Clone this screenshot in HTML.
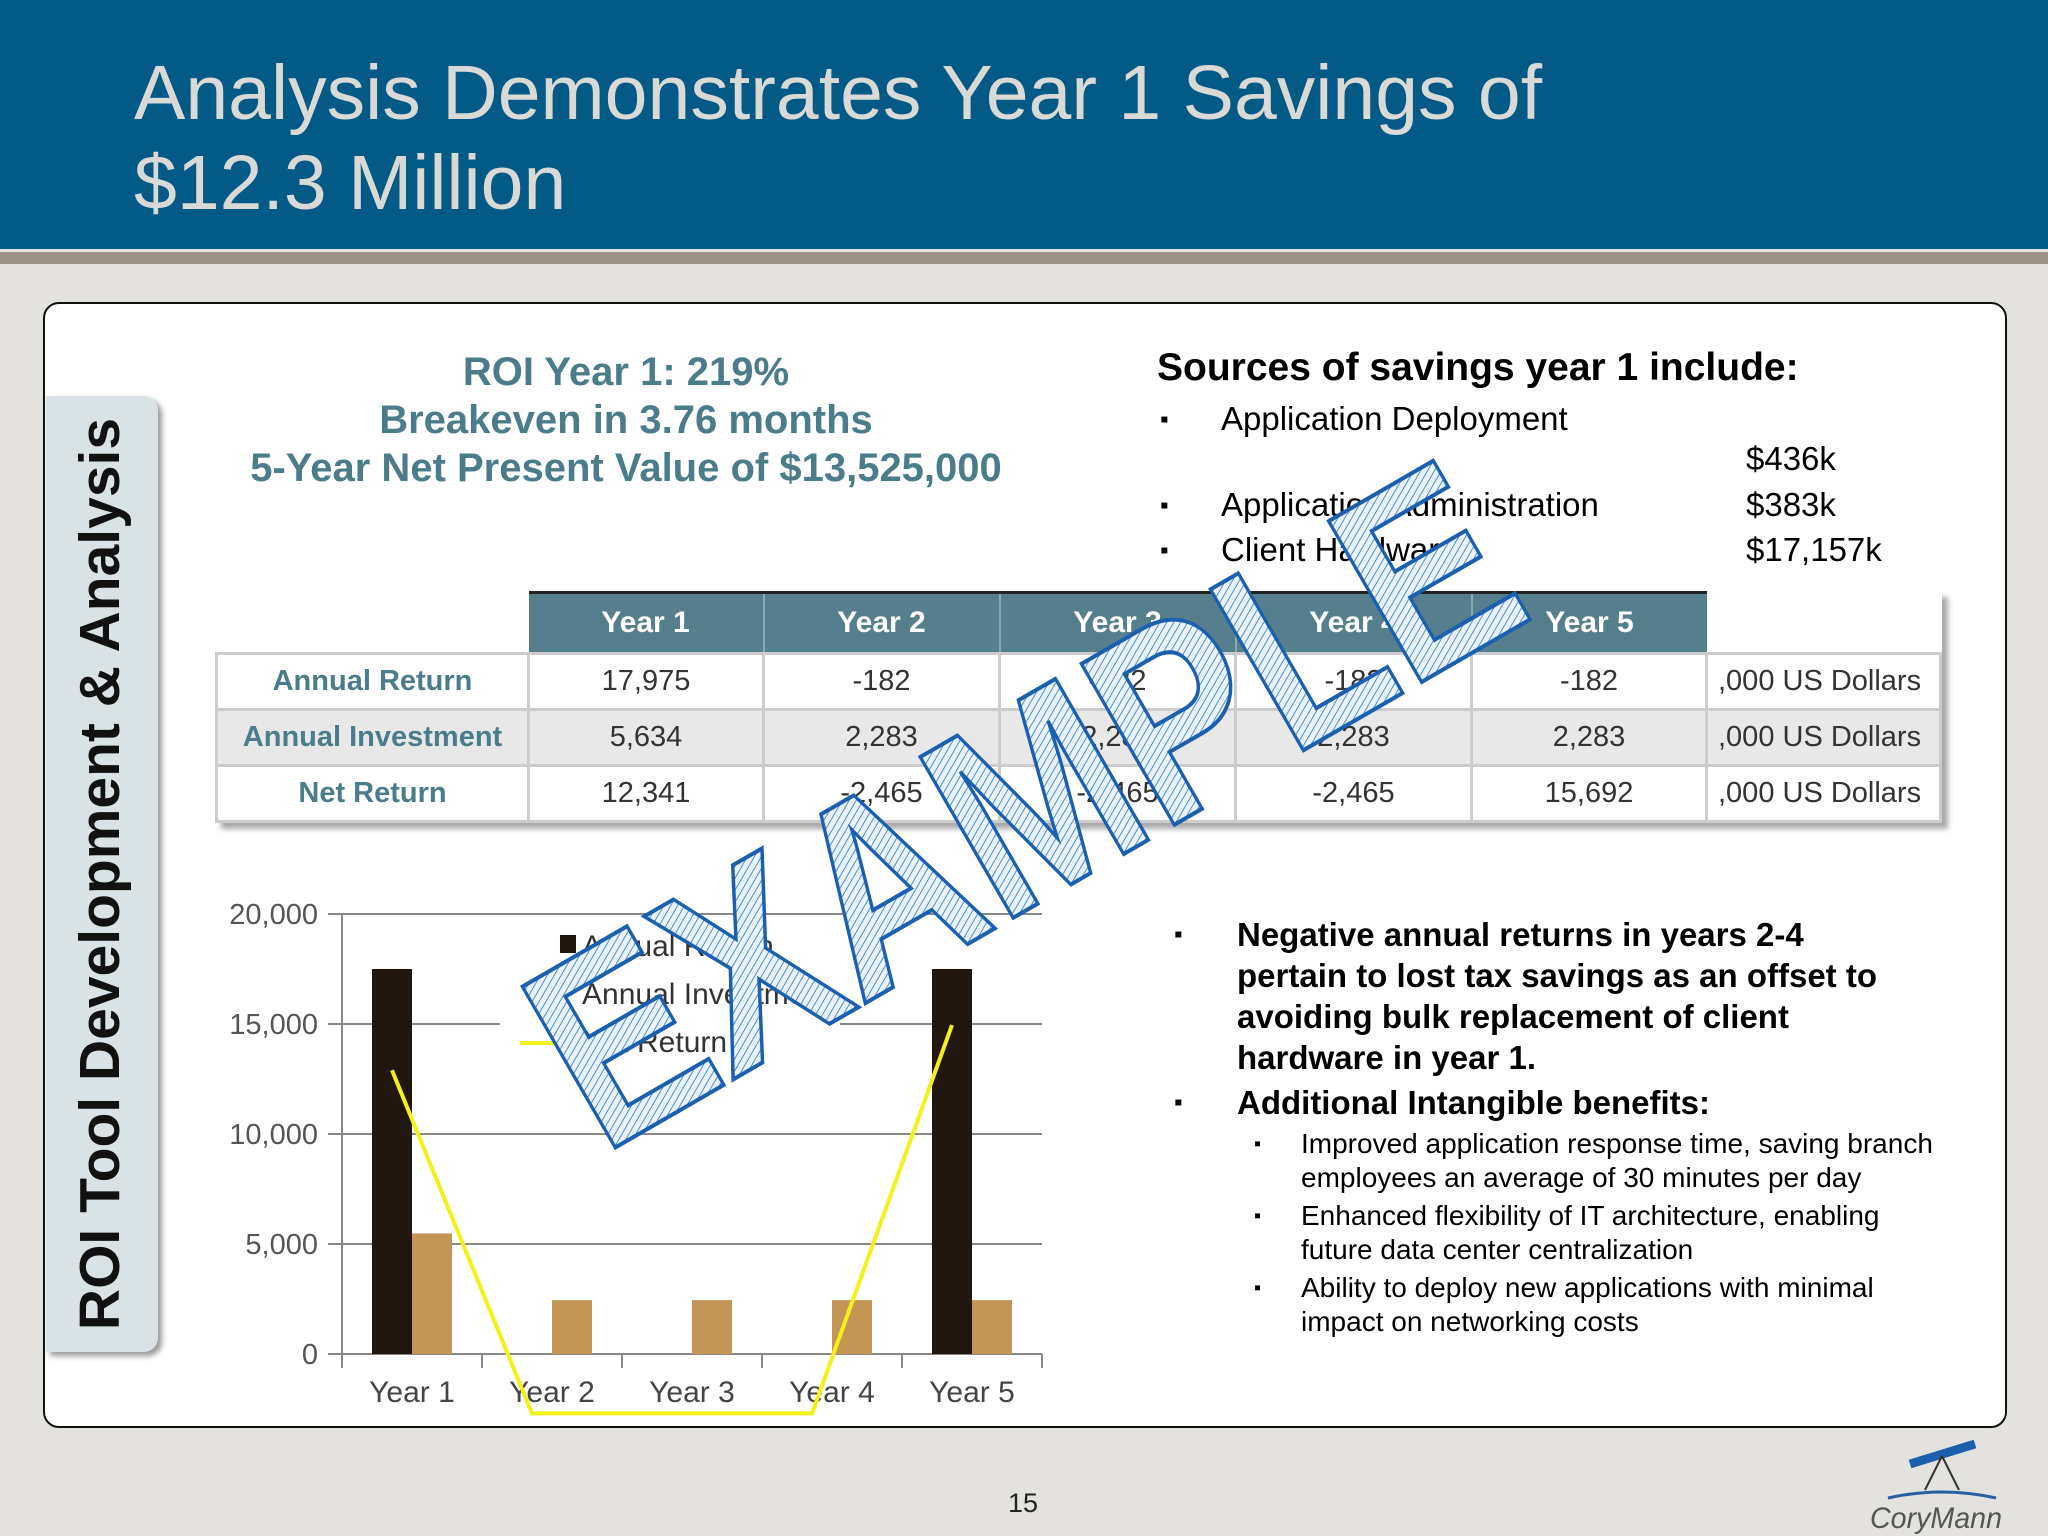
<!DOCTYPE html>
<html><head><meta charset="utf-8">
<style>
body{margin:0;width:2048px;height:1536px;overflow:hidden;background:#e4e2df;font-family:"Liberation Sans",sans-serif;position:relative}
.abs{position:absolute}
</style></head><body>
<div class="abs" style="left:0;top:0;width:2048px;height:249px;background:#045a86"></div>
<div class="abs" style="left:0;top:252px;width:2048px;height:12px;background:#9b9184"></div>
<div class="abs" style="left:134px;top:48px;color:#d9d9d6;font-size:77px;line-height:90px;">Analysis Demonstrates Year 1 Savings of<br>$12.3 Million</div>

<div class="abs" style="left:43px;top:302px;width:1960px;height:1122px;background:#fff;border:2px solid #111;border-radius:16px"></div>
<div class="abs" style="left:46px;top:396px;width:112px;height:956px;background:#d9e2e4;border-radius:0 14px 14px 0;box-shadow:4px 4px 6px #999"></div>
<div class="abs" style="left:100px;top:874px;transform:translate(-50%,-50%) rotate(-90deg);white-space:nowrap;font-weight:bold;font-size:57px;color:#111">ROI Tool Development &amp; Analysis</div>

<div class="abs" style="left:226px;top:348px;width:800px;text-align:center;color:#4b7c8a;font-weight:bold;font-size:40px;line-height:48px">ROI Year 1: 219%<br>Breakeven in 3.76 months<br>5-Year Net Present Value of $13,525,000</div>

<div class="abs" style="left:1157px;top:346px;font-weight:bold;font-size:39px;color:#000">Sources of savings year 1 include:</div>
<div class="abs" style="left:1160px;top:396px;font-size:33px;color:#000;line-height:46px">
<div style="position:absolute;top:0;white-space:nowrap"><span style="font-size:24px;vertical-align:3px">▪</span><span style="position:absolute;left:61px">Application Deployment</span></div>
<div style="position:absolute;top:40px;left:586px">$436k</div>
<div style="position:absolute;top:86px;white-space:nowrap"><span style="font-size:24px;vertical-align:3px">▪</span><span style="position:absolute;left:61px">Application Administration</span></div>
<div style="position:absolute;top:86px;left:586px">$383k</div>
<div style="position:absolute;top:131px;white-space:nowrap"><span style="font-size:24px;vertical-align:3px">▪</span><span style="position:absolute;left:61px">Client Hardware</span></div>
<div style="position:absolute;top:131px;left:586px">$17,157k</div>
</div>

<table class="abs" style="left:215px;top:591px;border-collapse:collapse;font-size:29px;box-shadow:6px 6px 5px #aaa">
<tr style="height:61px;color:#fff;font-weight:bold;font-size:30px">
<td style="width:310px;background:#fff"></td>
<td style="width:232px;background:#557f8c;text-align:center;border-top:3px solid #222;border-right:2px solid #8aa">Year 1</td>
<td style="width:232px;background:#557f8c;text-align:center;border-top:3px solid #222;border-right:2px solid #8aa">Year 2</td>
<td style="width:232px;background:#557f8c;text-align:center;border-top:3px solid #222;border-right:2px solid #8aa">Year 3</td>
<td style="width:232px;background:#557f8c;text-align:center;border-top:3px solid #222;border-right:2px solid #8aa">Year 4</td>
<td style="width:232px;background:#557f8c;text-align:center;border-top:3px solid #222">Year 5</td>
<td style="width:232px;background:#fff"></td></tr>
<tr style="height:56px;background:#fff;text-align:center;color:#333">
<td style="border:3px solid #ccc;color:#4b7c8a;font-weight:bold">Annual Return</td><td style="border:3px solid #ccc">17,975</td><td style="border:3px solid #ccc">-182</td><td style="border:3px solid #ccc">-182</td><td style="border:3px solid #ccc">-182</td><td style="border:3px solid #ccc">-182</td><td style="border:3px solid #ccc;text-align:left;padding-left:10px">,000 US Dollars</td></tr>
<tr style="height:56px;background:#e8e8e8;text-align:center;color:#333">
<td style="border:3px solid #ccc;color:#4b7c8a;font-weight:bold">Annual Investment</td><td style="border:3px solid #ccc">5,634</td><td style="border:3px solid #ccc">2,283</td><td style="border:3px solid #ccc">2,283</td><td style="border:3px solid #ccc">2,283</td><td style="border:3px solid #ccc">2,283</td><td style="border:3px solid #ccc;text-align:left;padding-left:10px">,000 US Dollars</td></tr>
<tr style="height:56px;background:#fff;text-align:center;color:#333">
<td style="border:3px solid #ccc;color:#4b7c8a;font-weight:bold">Net Return</td><td style="border:3px solid #ccc">12,341</td><td style="border:3px solid #ccc">-2,465</td><td style="border:3px solid #ccc">-2,465</td><td style="border:3px solid #ccc">-2,465</td><td style="border:3px solid #ccc">15,692</td><td style="border:3px solid #ccc;text-align:left;padding-left:10px">,000 US Dollars</td></tr>
</table>

<div class="abs" style="left:1174px;top:914px;width:800px;color:#000">
<div style="font-weight:bold;font-size:33px;line-height:41px;position:relative;padding-left:63px;width:668px"><span style="position:absolute;left:0;font-size:24px">▪</span>Negative annual returns in years 2-4 pertain to lost tax savings as an offset to avoiding bulk replacement of client hardware in year 1.</div>
<div style="font-weight:bold;font-size:33px;line-height:41px;position:relative;padding-left:63px;margin-top:4px"><span style="position:absolute;left:0;font-size:24px">▪</span>Additional Intangible benefits:</div>
<div style="font-size:28px;line-height:34px;position:relative;padding-left:127px;margin-top:4px;width:645px"><span style="position:absolute;left:80px;font-size:20px">▪</span>Improved application response time, saving branch employees an average of 30 minutes per day</div>
<div style="font-size:28px;line-height:34px;position:relative;padding-left:127px;margin-top:4px;width:645px"><span style="position:absolute;left:80px;font-size:20px">▪</span>Enhanced flexibility of IT architecture, enabling future data center centralization</div>
<div style="font-size:28px;line-height:34px;position:relative;padding-left:127px;margin-top:4px;width:645px"><span style="position:absolute;left:80px;font-size:20px">▪</span>Ability to deploy new applications with minimal impact on networking costs</div>
</div>

<svg class="abs" style="left:0;top:0" width="2048" height="1536" id="chart"></svg>

<div class="abs" style="left:1008px;top:1488px;font-size:27px;color:#222">15</div>
<svg class="abs" style="left:1860px;top:1436px" width="150" height="100">
<line x1="50" y1="28" x2="115" y2="8" stroke="#1d5fae" stroke-width="9"/>
<line x1="82" y1="20" x2="65" y2="54" stroke="#333" stroke-width="2"/>
<line x1="82" y1="20" x2="99" y2="54" stroke="#333" stroke-width="2"/>
<path d="M28 62 Q82 50 136 62" stroke="#2a5fa0" stroke-width="3" fill="none"/>
<text x="10" y="92" font-size="30" font-style="italic" fill="#555" font-family="Liberation Sans" textLength="132" lengthAdjust="spacingAndGlyphs">CoryMann</text>
</svg>

<script>
const categories=["Year 1","Year 2","Year 3","Year 4","Year 5"];
const annualReturn=[17500,0,0,0,17500];
const annualInvestment=[5480,2450,2450,2450,2450];
const netReturn=[12900,-2700,-2700,-2700,14950];
const yTicks=[0,5000,10000,15000,20000];
const yTickLabels=["0","5,000","10,000","15,000","20,000"];
const svg=document.getElementById('chart');
const NS='http://www.w3.org/2000/svg';
const X0=342,X1=1042,Y0=1354,Y20=914;
const bw=(X1-X0)/categories.length;
function y(v){return Y0-(v/20000)*(Y0-Y20);}
function cx(i){return X0+bw*(i+0.5);}
function mk(t,a){const e=document.createElementNS(NS,t);for(const k in a)e.setAttribute(k,a[k]);svg.appendChild(e);return e;}
yTicks.forEach((t,i)=>{
 const g=mk('line',{x1:X0-14,x2:X1,y1:y(t),y2:y(t),stroke:'#888','stroke-width':2});
 
 
 const l=mk('text',{x:X0-24,y:y(t)+10,'text-anchor':'end','font-size':29,fill:'#555','font-family':'Liberation Sans'});
 l.textContent=yTickLabels[i];
 
 
});
const ax=mk('line',{x1:X0,x2:X0,y1:Y20,y2:Y0,stroke:'#888','stroke-width':2});


for(let i=0;i<=categories.length;i++){const t=mk('line',{x1:X0+bw*i,x2:X0+bw*i,y1:Y0,y2:Y0+14,stroke:'#888','stroke-width':2});
 
 }
categories.forEach((c,i)=>{
 if(annualReturn[i]>0){const b=mk('rect',{x:cx(i)-40,y:y(annualReturn[i]),width:40,height:Y0-y(annualReturn[i]),fill:'#21170f'});
 
 }
 const b2=mk('rect',{x:cx(i),y:y(annualInvestment[i]),width:40,height:Y0-y(annualInvestment[i]),fill:'#c49655'});
 
 
 const l=mk('text',{x:cx(i),y:1402,'text-anchor':'middle','font-size':30,fill:'#444','font-family':'Liberation Sans'});
 l.textContent=c;
 
 
});
const pts=netReturn.map((v,i)=>(cx(i)-20)+','+y(v)).join(' ');
const pl=mk('polyline',{points:pts,fill:'none',stroke:'#f3f01a','stroke-width':4});


const lb=mk('rect',{x:500,y:915,width:340,height:150,fill:'#fff'});


const ls=mk('rect',{x:560,y:935,width:16,height:18,fill:'#21170f'});


const names=["Annual Return","Annual Investment","Net Return"];
names.forEach((n,i)=>{const t=mk('text',{x:582,y:956+i*48,'font-size':30,fill:'#333','font-family':'Liberation Sans'});t.textContent=n;
 
 });
const ll=mk('line',{x1:520,x2:566,y1:1043,y2:1043,stroke:'#f3f01a','stroke-width':4});


const defs=mk('defs',{});
defs.innerHTML='<pattern id="hatch" width="6" height="6" patternUnits="userSpaceOnUse" patternTransform="rotate(60)"><rect width="6" height="6" fill="#eaf3fb"/><line x1="0" y1="0" x2="0" y2="6" stroke="#4a90d0" stroke-width="2"/></pattern>';
const wm=mk('text',{x:0,y:0,transform:'translate(1070,885) rotate(-30)','text-anchor':'middle','font-size':270,'font-weight':'bold','font-family':'Liberation Sans',fill:'url(#hatch)',stroke:'#1a5fb0','stroke-width':4,textLength:1080,lengthAdjust:'spacingAndGlyphs'});
wm.textContent='EXAMPLE';


</script>
</body></html>
